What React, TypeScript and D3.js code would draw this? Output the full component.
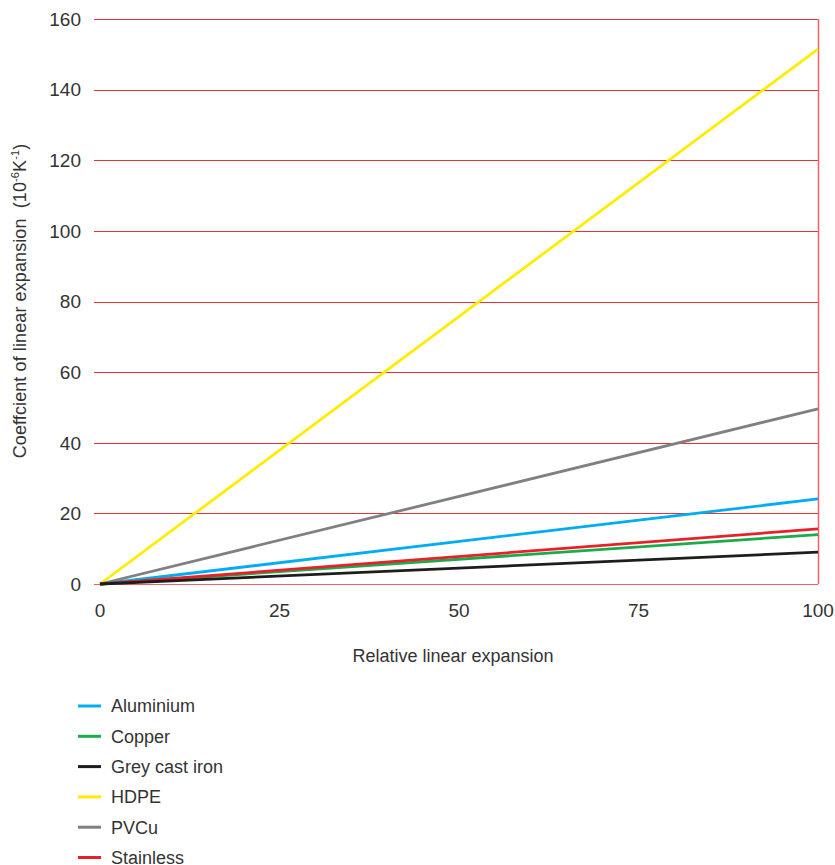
import React from "react";
import * as d3 from "d3";

const materials = ["Aluminium", "Copper", "Grey cast iron", "HDPE", "PVCu", "Stainless"];
const colors = ["#00aeef", "#1aab4b", "#1d1d1b", "#ffec00", "#808080", "#e8202a"];
const startValues = [0, 0, 0, 0, 0, 0];
const endValues = [24.1, 14.0, 9.0, 151.5, 49.6, 15.6];
const xDomainValues = [0, 100];
const xTicks = [0, 25, 50, 75, 100];
const yTicks = [0, 20, 40, 60, 80, 100, 120, 140, 160];
// draw order so that overlaps resemble the reference
const drawOrder = [3, 4, 0, 1, 5, 2];

const W = 835;
const H = 865;
const x = d3.scaleLinear().domain([0, 100]).range([100, 818]);
const y = d3.scaleLinear().domain([0, 160]).range([584, 19]);
const font = "'Liberation Sans', Arial, sans-serif";
const grid = "#e8303a";
const textColor = "#333";

export default function App() {
  const line = d3
    .line<[number, number]>()
    .x((d) => x(d[0]))
    .y((d) => y(d[1]));
  return (
    <svg
      width={W}
      height={H}
      style={{ position: "absolute", left: 0, top: 0, background: "#fff" }}
      fontFamily={font}
    >
      {yTicks.map((t) => {
        const yy = Math.round(y(t)) + 0.5;
        return (
          <g key={t}>
            <line x1={94} x2={818} y1={yy} y2={yy} stroke={t === 0 ? "#f0606a" : grid} strokeWidth={1.2} />
            <text x={81} y={y(t)} dy="0.36em" textAnchor="end" fontSize={19} fill={textColor}>
              {t}
            </text>
          </g>
        );
      })}
      <line x1={818.5} x2={818.5} y1={y(160)} y2={y(0)} stroke="#f0606a" strokeWidth={1.5} />
      {xTicks.map((t) => (
        <text key={t} x={x(t)} y={617} textAnchor="middle" fontSize={19} fill={textColor}>
          {t}
        </text>
      ))}
      {drawOrder.map((i) => (
        <path
          key={materials[i]}
          d={line([
            [xDomainValues[0], startValues[i]],
            [xDomainValues[1], endValues[i]],
          ]) as string}
          fill="none"
          stroke={colors[i]}
          strokeWidth={2.8}
        />
      ))}
      <text x={453} y={662} textAnchor="middle" fontSize={18} fill={textColor}>
        Relative linear expansion
      </text>
      <text
        transform={`translate(26,301) rotate(-90)`}
        textAnchor="middle"
        fontSize={18}
        fill={textColor}
        letterSpacing={0.1}
      >
        Coeffcient of linear expansion{"\u00a0\u00a0"}(10
        <tspan fontSize={11} dy={-7}>-6</tspan>
        <tspan dy={7}>K</tspan>
        <tspan fontSize={11} dy={-7}>-1</tspan>
        <tspan dy={7}>)</tspan>
      </text>
      {materials.map((m, i) => {
        const ly = 706 + i * 30.3;
        return (
          <g key={m}>
            <line x1={78} x2={101} y1={ly} y2={ly} stroke={colors[i]} strokeWidth={3} />
            <text x={111} y={ly} dy="0.35em" fontSize={18} fill={textColor}>
              {m}
            </text>
          </g>
        );
      })}
    </svg>
  );
}
